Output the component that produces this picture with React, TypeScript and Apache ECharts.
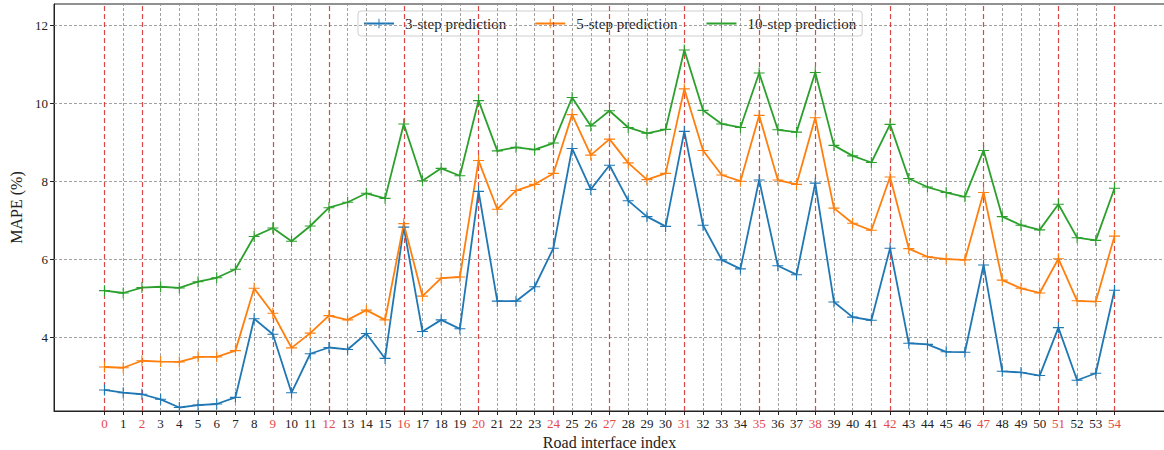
import React, { useEffect, useRef } from "react";
import * as echarts from "echarts";

// Road interface indices 0..54
const indices: number[] = Array.from({ length: 55 }, (_, i) => i);

// Interfaces highlighted with red dashed markers
const redIndices: number[] = [0, 2, 9, 12, 16, 20, 24, 27, 31, 35, 38, 42, 47, 51, 54];

const yTicks: number[] = [4, 6, 8, 10, 12];

const step3: number[] = [
  2.64, 2.57, 2.53, 2.40, 2.19, 2.25, 2.28, 2.45, 4.47, 4.07,
  2.57, 3.57, 3.73, 3.68, 4.09, 3.45, 6.82, 4.14, 4.44, 4.21,
  7.74, 4.92, 4.92, 5.29, 6.28, 8.84, 7.79, 8.41, 7.50, 7.09,
  6.84, 9.28, 6.87, 5.98, 5.75, 8.03, 5.83, 5.60, 7.95, 4.90,
  4.51, 4.43, 6.28, 3.84, 3.81, 3.62, 3.61, 5.85, 3.12, 3.09,
  3.01, 4.24, 2.89, 3.07, 5.20,
];

const step5: number[] = [
  3.23, 3.21, 3.39, 3.37, 3.36, 3.49, 3.49, 3.65, 5.25, 4.61,
  3.72, 4.10, 4.55, 4.44, 4.69, 4.44, 6.91, 5.05, 5.51, 5.54,
  8.53, 7.28, 7.76, 7.92, 8.20, 9.71, 8.67, 9.08, 8.47, 8.04,
  8.20, 10.37, 8.79, 8.16, 8.00, 9.69, 8.03, 7.92, 9.63, 7.31,
  6.92, 6.74, 8.11, 6.27, 6.06, 6.00, 5.98, 7.71, 5.46, 5.25,
  5.13, 6.01, 4.93, 4.91, 6.59,
];

const step10: number[] = [
  5.19, 5.13, 5.27, 5.29, 5.26, 5.42, 5.52, 5.74, 6.58, 6.80,
  6.46, 6.85, 7.32, 7.46, 7.69, 7.56, 9.47, 8.01, 8.33, 8.14,
  10.07, 8.78, 8.87, 8.81, 8.98, 10.15, 9.42, 9.81, 9.38, 9.23,
  9.33, 11.37, 9.82, 9.47, 9.38, 10.78, 9.32, 9.26, 10.79, 8.92,
  8.65, 8.48, 9.46, 8.07, 7.85, 7.71, 7.60, 8.79, 7.09, 6.87,
  6.75, 7.41, 6.55, 6.48, 7.82,
];

const seriesNames = ["3-step prediction", "5-step prediction", "10-step prediction"];
const seriesColors = ["#1f77b4", "#ff7f0e", "#2ca02c"];

const SERIF = "'Liberation Serif', 'Times New Roman', serif";
const PLUS = "path://M5.4,0h1.2v12h-1.2z M0,5.4h12v1.2h-12z";
const RED_LINE = "rgba(214,39,40,0.85)";
const RED_TEXT = "#e5484a";
const GRID_GRAY = "#8a8a8a";

export default function App() {
  const ref = useRef<HTMLDivElement>(null);

  useEffect(() => {
    if (!ref.current) return;
    const chart = echarts.init(ref.current, undefined, { renderer: "svg" });

    const toPairs = (vals: number[]) => indices.map((i) => [i, vals[i]]);

    const dataSeries = [step3, step5, step10].map((vals, k) => ({
      name: seriesNames[k],
      type: "line",
      data: toPairs(vals),
      symbol: PLUS,
      symbolSize: 11,
      showSymbol: true,
      z: 5,
      lineStyle: { color: seriesColors[k], width: 1.8 },
      itemStyle: { color: seriesColors[k] },
      emphasis: { disabled: true },
    }));

    const grayX = indices.filter((i) => !redIndices.includes(i));

    chart.setOption({
      animation: false,
      grid: {
        left: 54,
        right: -1,
        top: 4,
        bottom: 39,
        outerBoundsMode: "none",
        containLabel: false,
        show: true,
        borderColor: "#222",
        borderWidth: 1,
        backgroundColor: "transparent",
      },
      legend: {
        data: seriesNames,
        left: 358,
        top: 11,
        itemWidth: 30,
        itemHeight: 12,
        itemGap: 28,
        padding: [5, 6, 5, 5],
        borderColor: "#cfcfcf",
        borderWidth: 1,
        borderRadius: 3,
        backgroundColor: "rgba(255,255,255,0.85)",
        textStyle: {
          fontFamily: SERIF,
          fontSize: 15,
          color: "#222",
          padding: [0, 0, 0, 6],
        },
      },
      xAxis: {
        type: "value",
        min: -2.7,
        max: 56.7,
        name: "Road interface index",
        nameLocation: "middle",
        nameGap: 19,
        nameTextStyle: { fontFamily: SERIF, fontSize: 16, lineHeight: 16, color: "#222" },
        axisLine: { show: true, onZero: false, lineStyle: { color: "#222", width: 1 } },
        axisTick: { show: true, length: 4, customValues: indices, lineStyle: { color: "#222" } },
        axisLabel: {
          customValues: indices,
          fontFamily: SERIF,
          fontSize: 13,
          margin: 6,
          color: (v: any) => (redIndices.includes(Number(v)) ? RED_TEXT : "#222"),
        },
        splitLine: { show: false },
      },
      yAxis: {
        type: "value",
        min: 2.1,
        max: 12.55,
        name: "MAPE (%)",
        nameLocation: "middle",
        nameGap: 30,
        nameTextStyle: { fontFamily: SERIF, fontSize: 16, color: "#222" },
        axisLine: { show: true, onZero: false, lineStyle: { color: "#222", width: 1 } },
        axisTick: { show: true, length: 4, customValues: yTicks, lineStyle: { color: "#222" } },
        axisLabel: {
          customValues: yTicks,
          fontFamily: SERIF,
          fontSize: 13,
          margin: 6,
          color: "#222",
        },
        splitLine: { show: false },
      },
      series: [
        {
          name: "__grid",
          type: "line",
          data: [[0, yTicks[0]]],
          showSymbol: false,
          symbol: "none",
          lineStyle: { opacity: 0 },
          silent: true,
          z: 1,
          markLine: {
            silent: true,
            symbol: ["none", "none"],
            label: { show: false },
            lineStyle: { color: GRID_GRAY, type: [3, 2], width: 0.8 },
            data: [
              ...yTicks.map((v) => ({ yAxis: v })),
              ...grayX.map((i) => ({ xAxis: i })),
            ],
          },
        },
        {
          name: "__red",
          type: "line",
          data: [[0, yTicks[0]]],
          showSymbol: false,
          symbol: "none",
          lineStyle: { opacity: 0 },
          silent: true,
          z: 2,
          markLine: {
            silent: true,
            symbol: ["none", "none"],
            label: { show: false },
            lineStyle: { color: RED_LINE, type: [5, 3], width: 1.2 },
            data: redIndices.map((i) => ({ xAxis: i })),
          },
        },
        ...dataSeries,
      ],
    });

    return () => chart.dispose();
  }, []);

  return (
    <div
      ref={ref}
      style={{ position: "absolute", left: 0, top: 0, width: 1164, height: 450, background: "#fff" }}
    />
  );
}
